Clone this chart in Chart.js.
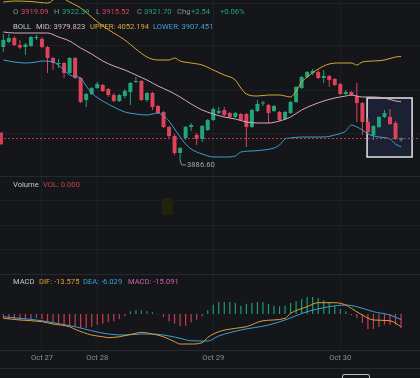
<!DOCTYPE html>
<html>
<head>
<meta charset="utf-8">
<script src="https://cdn.jsdelivr.net/npm/chart.js@4.4.1/dist/chart.umd.min.js"></script>
<style>
    html, body { margin: 0; padding: 0; background: #14161a; }
    body { width: 420px; height: 378px; position: relative; overflow: hidden; font-family: Roboto, "Noto Sans", sans-serif; }
    canvas { position: absolute; left: 0; }
    .t { position: absolute; font-size: 7.6px; line-height: 10px; white-space: nowrap; }
    .g { color: #8b8f96; }
    .w { color: #c3c6cc; }
    .sep { position: absolute; left: 0; width: 420px; height: 1px; background: #262a30; }
</style>
</head>
<body>
<canvas id="mainChart" width="420" height="176" style="top:0"></canvas>
<canvas id="volumeChart" width="420" height="98" style="top:176px"></canvas>
<canvas id="macdChart" width="420" height="94" style="top:274px"></canvas>

<div class="sep" style="top:176px"></div>
<div class="sep" style="top:274px"></div>
<div class="sep" style="top:350px"></div>
<div class="sep" style="top:368px"></div>
<div style="position:absolute;left:162px;top:198px;width:11px;height:17px;background:#22220f;border-radius:2px"></div>
<div style="position:absolute;left:342px;top:374px;width:26px;height:10px;border:1px solid #b9bcc2;border-radius:2px"></div>

<div class="t g" style="left:13px;top:7px">O</div>
<div class="t" style="left:21px;top:7px;color:#e0425a">3919.09</div>
<div class="t g" style="left:54px;top:7px">H</div>
<div class="t" style="left:62px;top:7px;color:#22a57a">3922.39</div>
<div class="t g" style="left:96px;top:7px">L</div>
<div class="t" style="left:102px;top:7px;color:#e0425a">3915.52</div>
<div class="t g" style="left:137px;top:7px">C</div>
<div class="t" style="left:144px;top:7px;color:#22a57a">3921.70</div>
<div class="t g" style="left:177px;top:7px">Chg</div>
<div class="t" style="left:191px;top:7px;color:#22a57a">+2.54</div>
<div class="t" style="left:220px;top:7px;color:#22a57a">+0.06%</div>

<div class="t w" style="left:13px;top:22px">BOLL</div>
<div class="t" style="left:36px;top:22px;color:#dcb0c0">MID: 3979.823</div>
<div class="t" style="left:90px;top:22px;color:#d9a932">UPPER: 4052.194</div>
<div class="t" style="left:153px;top:22px;color:#3d9fd6">LOWER: 3907.451</div>

<div class="t w" style="left:13px;top:180px">Volume</div>
<div class="t" style="left:43px;top:180px;color:#c8434f">VOL: 0.000</div>

<div class="t w" style="left:13px;top:277px">MACD</div>
<div class="t" style="left:39px;top:277px;color:#e39a3c">DIF: -13.575</div>
<div class="t" style="left:83px;top:277px;color:#3d9fd6">DEA: -6.029</div>
<div class="t" style="left:128px;top:277px;color:#d062b2">MACD: -15.091</div>

<script>
// hourly candles
var opens = [4067.3, 4075.3, 4081.7, 4070.5, 4067.3, 4068.9, 4081.7, 4080.1, 4067.3, 4049.7,
    4040.1, 4041.7, 4025.7, 4049.7, 4017.7, 3982.5, 3992.1, 4001.7, 4006.5, 4000.1,
    3990.5, 3980.9, 3988.9, 3995.3, 4011.3, 4012.9, 3982.5, 3993.7, 3972.9, 3963.3,
    3939.3, 3924.9, 3897.7, 3921.7, 3939.3, 3926.5, 3920.1, 3934.5, 3950.5, 3961.7,
    3966.5, 3961.7, 3955.3, 3960.1, 3960.1, 3939.3, 3964.9, 3976.9, 3974.5, 3964.9,
    3963.3, 3952.1, 3961.7, 3979.3, 4001.7, 4019.3, 4025.7, 4027.3, 4017.7, 4020.9,
    4016.1, 4008.1, 3992.1, 3995.3, 3988.9, 3977.7, 3947.3, 3926.5, 3939.3, 3955.3,
    3955.3, 3945.7, 3919.09];
var highs = [4088.1, 4088.1, 4084.9, 4078.5, 4073.7, 4084.9, 4086.5, 4083.3, 4068.9, 4051.3,
    4048.1, 4043.3, 4051.3, 4051.3, 4019.3, 3993.7, 4003.3, 4011.3, 4008.1, 4001.7,
    3993.7, 3992.1, 4000.1, 4011.3, 4019.3, 4014.5, 3995.3, 3995.3, 3974.5, 3964.9,
    3940.9, 3928.1, 3907.3, 3940.9, 3945.7, 3929.7, 3942.5, 3952.1, 3971.3, 3971.3,
    3971.3, 3963.3, 3963.3, 3961.7, 3961.7, 3968.1, 3982.5, 3980.9, 3976.1, 3974.5,
    3964.9, 3964.9, 3980.9, 4004.9, 4020.9, 4028.9, 4032.1, 4030.5, 4030.5, 4022.5,
    4017.7, 4009.7, 3998.5, 3996.9, 4009.7, 3979.3, 3953.7, 3942.5, 3956.9, 3966.5,
    3968.1, 3948.9, 3922.39];
var lows = [4059.3, 4073.7, 4068.9, 4064.1, 4054.5, 4067.3, 4078.5, 4065.7, 4025.7, 4030.5,
    4033.7, 4017.7, 4024.1, 4016.1, 3977.7, 3971.3, 3990.5, 4000.1, 3995.3, 3987.3,
    3979.3, 3979.3, 3985.7, 3974.5, 4009.7, 3980.9, 3979.3, 3966.5, 3960.1, 3937.7,
    3921.7, 3894.5, 3886.6, 3918.5, 3932.9, 3910.5, 3915.3, 3932.9, 3948.9, 3960.1,
    3956.9, 3953.7, 3953.7, 3948.9, 3907.3, 3937.7, 3963.3, 3972.9, 3945.7, 3963.3,
    3948.9, 3950.5, 3960.1, 3977.7, 4000.1, 4017.7, 4022.5, 4016.1, 4009.7, 4003.3,
    4004.9, 3990.5, 3990.5, 3988.9, 3947.3, 3926.5, 3928.1, 3918.5, 3937.7, 3953.7,
    3942.5, 3918.5, 3915.52];
var closes = [4078.5, 4081.7, 4070.5, 4066.5, 4071.3, 4083.3, 4083.3, 4067.3, 4049.7, 4041.7,
    4041.7, 4025.7, 4049.7, 4017.7, 3979.3, 3992.1, 4001.7, 4008.1, 3996.9, 3990.5,
    3980.9, 3990.5, 3996.9, 4009.7, 4012.9, 3982.5, 3993.7, 3971.3, 3961.7, 3939.3,
    3924.9, 3897.7, 3905.7, 3939.3, 3942.5, 3920.1, 3940.9, 3950.5, 3968.1, 3964.9,
    3958.5, 3955.3, 3961.7, 3950.5, 3939.3, 3966.5, 3976.1, 3978.5, 3961.7, 3972.9,
    3950.5, 3963.3, 3979.3, 4003.3, 4019.3, 4027.3, 4028.9, 4017.7, 4020.9, 4014.5,
    4006.5, 3992.1, 3995.3, 3990.5, 3977.7, 3947.3, 3931.3, 3940.9, 3955.3, 3961.7,
    3944.1, 3920.1, 3921.70];

// Bollinger bands, [candle index, price] read at sample points
var upperPts = [[0, 4139.3], [2, 4140.9], [5, 4140.1], [8, 4137.7], [10, 4147.3], [12, 4139.3],
    [14, 4129.7], [16, 4115.3], [18, 4100.9], [20, 4089.7], [22, 4078.5], [24, 4064.1],
    [26, 4051.3], [28, 4046.5], [30, 4046.5], [31, 4049.7], [32, 4044.9], [34, 4041.7],
    [36, 4038.5], [38, 4030.5], [40, 4022.5], [42, 4014.5], [43, 4001.7], [44, 3992.1],
    [46, 3988.9], [48, 3990.5], [50, 3990.5], [52, 3987.3], [53, 3996.9], [54, 4011.3],
    [55, 4019.3], [57, 4032.1], [59, 4040.1], [61, 4041.7], [63, 4041.7], [64, 4038.5],
    [65, 4043.3], [67, 4044.9], [69, 4046.5], [71, 4051.3], [72, 4052.194]];
var midPts = [[0, 4091.3], [2, 4089.7], [5, 4089.7], [8, 4089.7], [10, 4083.3], [12, 4076.9],
    [14, 4065.7], [16, 4056.1], [18, 4044.9], [20, 4036.9], [22, 4030.5], [24, 4022.5],
    [26, 4014.5], [28, 4004.9], [30, 3996.9], [32, 3987.3], [34, 3976.1], [36, 3966.5],
    [38, 3960.1], [40, 3955.3], [42, 3952.1], [44, 3947.3], [46, 3945.7], [48, 3945.7],
    [50, 3948.9], [52, 3955.3], [54, 3966.5], [56, 3974.5], [58, 3980.9], [60, 3985.7],
    [62, 3988.9], [63, 3990.5], [65, 3987.3], [67, 3987.3], [69, 3985.7], [71, 3980.9],
    [72, 3979.823]];
var lowerPts = [[0, 4046.5], [2, 4043.3], [4, 4041.7], [6, 4043.3], [7, 4044.9], [9, 4043.3],
    [11, 4030.5], [12, 4022.5], [14, 4017.7], [15, 4004.9], [16, 3993.7], [18, 3980.9],
    [20, 3971.3], [22, 3963.3], [24, 3960.1], [26, 3958.5], [27, 3960.1], [28, 3961.7],
    [29, 3956.9], [30, 3948.9], [31, 3936.1], [32, 3923.3], [33, 3912.1], [34, 3904.1],
    [35, 3899.3], [36, 3896.1], [38, 3891.3], [40, 3891.3], [42, 3892.9], [43, 3899.3],
    [45, 3900.9], [47, 3902.5], [49, 3905.7], [50, 3910.5], [51, 3920.1], [52, 3921.7],
    [54, 3923.3], [56, 3923.3], [58, 3923.3], [60, 3926.5], [62, 3932.9], [63, 3942.5],
    [64, 3939.3], [65, 3934.5], [66, 3928.1], [68, 3923.3], [70, 3920.1], [71, 3912.1],
    [72, 3907.451]];

// MACD
var macdHist = [-4.3, -5.3, -6.1, -6.7, -6.1, -5.3, -4.3, -5.3, -7.8, -9.6,
    -9.6, -11.4, -12.5, -13.9, -15.0, -15.0, -13.9, -11.4, -10.4, -8.9,
    -7.8, -5.3, -2.5, 2.9, 4.0, 4.0, 2.9, 1.8, -0.5, -3.2,
    -7.8, -10.4, -13.2, -12.5, -8.9, -6.1, -2.5, 4.0, 9.9, 12.5,
    12.8, 12.8, 11.8, 8.9, 11.0, 11.8, 12.8, 12.5, 10.7, 8.9,
    8.2, 8.9, 11.8, 13.6, 16.0, 18.2, 18.2, 17.1, 14.7, 12.5,
    8.9, 5.3, 2.9, -1.4, -4.3, -9.6, -16.0, -16.0, -13.9, -11.4,
    -11.4, -11.4, -15.091];
var difPts = [[0, -4.6], [3, -6.4], [7, -8.2], [9, -10.7], [12, -13.6], [13, -16.4], [16, -22.5],
    [18, -24.3], [19, -25.3], [21, -24.3], [24, -20.6], [25, -19.6], [27, -21.4], [29, -24.3],
    [31, -29.6], [32, -32.1], [34, -32.1], [36, -30.7], [37, -25.1], [39, -18.9], [42, -15.3],
    [44, -13.6], [47, -7.2], [51, -4.6], [52, 0.7], [55, 7.8], [57, 12.1], [60, 12.1],
    [62, 9.6], [63, 6.1], [65, -1.1], [67, -6.4], [70, -7.2], [72, -13.575]];
var deaPts = [[0, -2.9], [3, -4.6], [7, -7.2], [9, -9.3], [13, -13.6], [16, -17.9], [19, -21.4],
    [22, -22.5], [25, -21.4], [27, -21.4], [30, -23.5], [32, -26.0], [34, -28.6], [37, -28.9],
    [39, -23.5], [43, -17.1], [48, -11.8], [51, -6.4], [55, 2.5], [59, 7.8], [62, 9.6],
    [64, 7.8], [67, 2.5], [70, -1.1], [72, -6.029]];

// time axis
var dayLabels = ["Oct 27", "Oct 28", "Oct 29", "Oct 30"];
var dayIndex = [7, 17, 38, 61];

var green = "#22a57a";
var red = "#e0425a";
var gridColor = "#1d2025";
var xMin = -0.6, xMax = 75.43;

var idx = closes.map(function (c, i) { return i; });
var toXY = function (pts) { return pts.map(function (p) { return { x: p[0], y: p[1] }; }); };
var candleColor = function (ctx) {
    var i = ctx.dataIndex;
    return closes[i] >= opens[i] ? green : red;
};

var xScale = function (showLabels) {
    return {
        type: "linear", min: xMin, max: xMax, offset: false,
        grid: { color: gridColor, drawTicks: false, offset: false },
        border: { display: false },
        ticks: {
            display: showLabels, autoSkip: false, maxRotation: 0, padding: 4,
            color: "#8b8f96", font: { family: "Roboto", size: 7.6 },
            callback: function (v) { var k = dayIndex.indexOf(v); return k < 0 ? "" : dayLabels[k]; }
        },
        afterBuildTicks: function (ax) { ax.ticks = dayIndex.map(function (v) { return { value: v }; }); },
        afterFit: function (ax) { ax.height = showLabels ? 18 : 0; }
    };
};
var yScale = function (min, max, gridVals) {
    return {
        min: min, max: max,
        grid: { color: gridColor, drawTicks: false, display: gridVals.length > 0 },
        border: { display: false },
        ticks: { display: false },
        afterBuildTicks: function (ax) { ax.ticks = gridVals.map(function (v) { return { value: v }; }); },
        afterFit: function (ax) { ax.width = 0; }
    };
};
var baseOptions = function (scales) {
    return {
        responsive: false, animation: false,
        layout: { padding: 0 },
        plugins: { legend: { display: false }, tooltip: { enabled: false } },
        scales: scales
    };
};

// highlighted zone at the end of the main panel
var boxFrom = 65.85, boxTo = 74.0, boxHigh = 3985.7, boxLow = 3891.3;

var mainOverlay = {
    id: "mainOverlay",
    beforeDatasetsDraw: function (chart) {
        var ctx = chart.ctx, x = chart.scales.x, y = chart.scales.y;
        var l = x.getPixelForValue(boxFrom), r = x.getPixelForValue(boxTo);
        var t = y.getPixelForValue(boxHigh), b = y.getPixelForValue(boxLow);
        ctx.save();
        ctx.fillStyle = "#1b2032";
        ctx.fillRect(l, t, r - l, b - t);
        ctx.strokeStyle = "#e4e5e8";
        ctx.lineWidth = 1.5;
        ctx.strokeRect(l, t, r - l, b - t);
        ctx.restore();
    },
    afterDatasetsDraw: function (chart) {
        var ctx = chart.ctx, x = chart.scales.x, y = chart.scales.y;
        var last = closes[closes.length - 1];
        var py = Math.round(y.getPixelForValue(last)) + 0.5;
        ctx.save();
        ctx.strokeStyle = "#c23a50";
        ctx.lineWidth = 1;
        ctx.setLineDash([2, 2]);
        ctx.beginPath();
        ctx.moveTo(0, py);
        ctx.lineTo(chart.width, py);
        ctx.stroke();
        ctx.setLineDash([]);
        ctx.fillStyle = "#d23f55";
        ctx.fillRect(0, py - 6, 3, 12);

        var low = Math.min.apply(null, lows);
        var li = lows.indexOf(low);
        var lx = x.getPixelForValue(li), ly = y.getPixelForValue(low);
        ctx.strokeStyle = "#8b8f96";
        ctx.beginPath();
        ctx.moveTo(lx, ly);
        ctx.lineTo(lx + 1.5, ly + 5);
        ctx.lineTo(lx + 6, ly + 5);
        ctx.stroke();
        ctx.fillStyle = "#a3a7ae";
        ctx.font = "7.6px Roboto";
        ctx.textBaseline = "middle";
        ctx.fillText(low.toFixed(2), lx + 7, ly + 5);
        ctx.restore();
    }
};

new Chart(document.getElementById("mainChart"), {
    type: "bar",
    data: {
        datasets: [{
            type: "line", label: "UPPER", data: toXY(upperPts),
            borderColor: "#d9a932", borderWidth: 1, pointRadius: 0,
            cubicInterpolationMode: "monotone", order: 0
        }, {
            type: "line", label: "MID", data: toXY(midPts),
            borderColor: "#dfa9bd", borderWidth: 1, pointRadius: 0,
            cubicInterpolationMode: "monotone", order: 0
        }, {
            type: "line", label: "LOWER", data: toXY(lowerPts),
            borderColor: "#3d9fd6", borderWidth: 1, pointRadius: 0,
            cubicInterpolationMode: "monotone", order: 0
        }, {
            label: "body",
            data: idx.map(function (i) { return { x: i, y: [opens[i], closes[i]] }; }),
            backgroundColor: candleColor, grouped: false, maxBarThickness: 4, minBarLength: 1, order: 1
        }, {
            label: "wick",
            data: idx.map(function (i) { return { x: i, y: [lows[i], highs[i]] }; }),
            backgroundColor: candleColor, grouped: false, maxBarThickness: 1, order: 2
        }]
    },
    options: baseOptions({
        x: xScale(false),
        y: yScale(3860.9, 4142.5, [4137.7, 4068.9, 3998.5, 3929.7])
    }),
    plugins: [mainOverlay]
});

var volumes = idx.map(function () { return 0; });

new Chart(document.getElementById("volumeChart"), {
    type: "bar",
    data: {
        datasets: [{
            label: "VOL",
            data: idx.map(function (i) { return { x: i, y: volumes[i] }; }),
            backgroundColor: candleColor, grouped: false, maxBarThickness: 4
        }]
    },
    options: baseOptions({
        x: xScale(false),
        y: yScale(0, 4, [1, 2, 3])
    })
});

new Chart(document.getElementById("macdChart"), {
    type: "bar",
    data: {
        datasets: [{
            type: "line", label: "DIF", data: toXY(difPts),
            borderColor: "#e39a3c", borderWidth: 1, pointRadius: 0,
            cubicInterpolationMode: "monotone", order: 0
        }, {
            type: "line", label: "DEA", data: toXY(deaPts),
            borderColor: "#3d9fd6", borderWidth: 1, pointRadius: 0,
            cubicInterpolationMode: "monotone", order: 0
        }, {
            label: "MACD",
            data: idx.map(function (i) { return { x: i, y: macdHist[i] }; }),
            backgroundColor: function (ctx) { return macdHist[ctx.dataIndex] >= 0 ? "#1f9a72" : "#c93c55"; },
            grouped: false, maxBarThickness: 1.2, order: 1
        }]
    },
    options: baseOptions({
        x: xScale(true),
        y: yScale(-38.5, 42.8, [])
    })
});
</script>
</body>
</html>
